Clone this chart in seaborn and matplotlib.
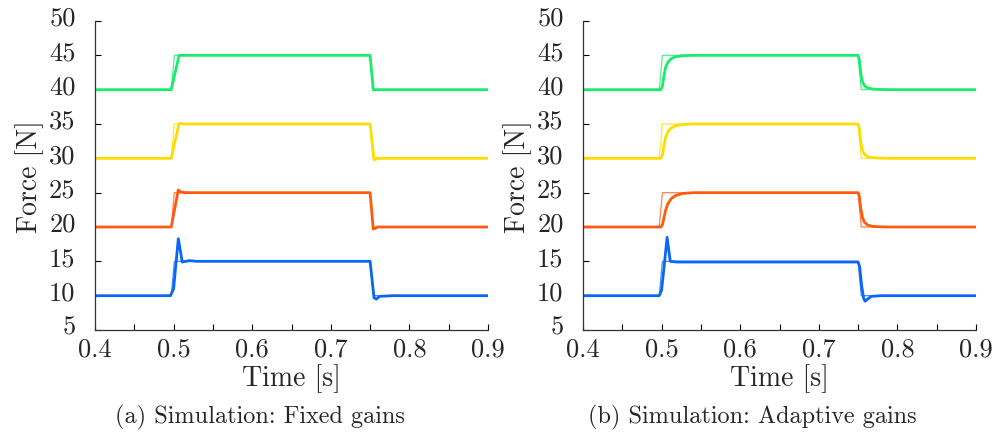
import numpy as np
import pandas as pd
import matplotlib
matplotlib.use("Agg")
import matplotlib.pyplot as plt
import matplotlib.transforms as mtransforms
import seaborn as sns

# reference (thin) traces, same for both panels
ref_time = [0.4, 0.497, 0.501, 0.75, 0.754, 0.9]
ref_green = [40, 40, 45, 45, 40, 40]
ref_yellow = [30, 30, 35, 35, 30, 30]
ref_orange = [20, 20, 25, 25, 20, 20]
ref_blue = [10, 10, 15, 15, 10, 10]

# (a) fixed gains, measured force
fix_green_t = [0.4, 0.497, 0.507, 0.75, 0.754, 0.9]
fix_green = [40, 40, 45, 45, 40, 40]
fix_yellow_t = [0.4, 0.497, 0.507, 0.515, 0.75, 0.755, 0.76, 0.9]
fix_yellow = [30, 30, 35.1, 35, 35, 29.8, 30, 30]
fix_orange_t = [0.4, 0.497, 0.506, 0.509, 0.515, 0.75, 0.754, 0.76, 0.9]
fix_orange = [20, 20, 25.4, 25.1, 25, 25, 19.7, 20, 20]
fix_blue_t = [0.4, 0.496, 0.5, 0.506, 0.511, 0.52, 0.53, 0.75, 0.755, 0.758, 0.762, 0.78, 0.9]
fix_blue = [10, 10, 11, 18.3, 14.9, 15.1, 15, 15, 9.7, 9.5, 9.9, 10, 10]

# (b) adaptive gains, measured force
ada_t = [0.4, 0.499, 0.501, 0.503, 0.505, 0.508, 0.512, 0.518, 0.527, 0.54,
         0.75, 0.7515, 0.7535, 0.7555, 0.758, 0.762, 0.768, 0.777, 0.79, 0.9]
ada_green = [40, 40, 40.5, 42.0, 43.2, 44.0, 44.5, 44.8, 44.95, 45,
             45, 44.4, 42.3, 41.2, 40.6, 40.25, 40.1, 40.03, 40, 40]
ada_yellow = [30, 30, 30.4, 31.8, 33.0, 33.9, 34.4, 34.75, 34.93, 35,
              35, 34.4, 32.3, 31.2, 30.6, 30.25, 30.1, 30.03, 30, 30]
ada_orange = [20, 20, 20.3, 21.3, 22.4, 23.4, 24.1, 24.6, 24.88, 25,
              25, 24.5, 22.6, 21.4, 20.7, 20.3, 20.1, 20.03, 20, 20]
ada_blue_t = [0.4, 0.497, 0.5, 0.503, 0.507, 0.511, 0.52, 0.75, 0.752, 0.7545,
              0.757, 0.759, 0.762, 0.767, 0.78, 0.9]
ada_blue = [10, 10, 10.8, 14.0, 18.5, 15.0, 14.9, 14.9, 14.2, 11.5,
            9.6, 9.2, 9.5, 9.9, 10, 10]

colors = {"green": "#18ec6c", "yellow": "#ffdc00", "orange": "#ff5a10", "blue": "#0a66f7"}

x_ticks = [0.4, 0.5, 0.6, 0.7, 0.8, 0.9]
y_ticks = [5, 10, 15, 20, 25, 30, 35, 40, 45, 50]
captions = ["(a) Simulation: Fixed gains", "(b) Simulation: Adaptive gains"]
caption_x = [260 / 996, 752 / 996]

sns.set_style("ticks")
plt.rcParams["font.family"] = ["cmr10", "DejaVu Serif"]
plt.rcParams["mathtext.fontset"] = "cm"
plt.rcParams["axes.formatter.use_mathtext"] = True

fig = plt.figure(figsize=(9.96, 4.35), dpi=100)
ax_a = fig.add_axes([95 / 996, 1 - 331 / 435, 393 / 996, 309 / 435])
ax_b = fig.add_axes([583 / 996, 1 - 331 / 435, 393 / 996, 309 / 435])

panels = [
    (ax_a, [(fix_green_t, fix_green, "green"), (fix_yellow_t, fix_yellow, "yellow"),
            (fix_orange_t, fix_orange, "orange"), (fix_blue_t, fix_blue, "blue")]),
    (ax_b, [(ada_t, ada_green, "green"), (ada_t, ada_yellow, "yellow"),
            (ada_t, ada_orange, "orange"), (ada_blue_t, ada_blue, "blue")]),
]
refs = {"green": ref_green, "yellow": ref_yellow, "orange": ref_orange, "blue": ref_blue}

for i, (ax, series) in enumerate(panels):
    for t, v, name in series:
        ref_df = pd.DataFrame({"t": ref_time, "f": refs[name]})
        sns.lineplot(data=ref_df, x="t", y="f", ax=ax, color=colors[name],
                     lw=0.9, alpha=0.75, estimator=None, sort=False)
        df = pd.DataFrame({"t": t, "f": v})
        sns.lineplot(data=df, x="t", y="f", ax=ax, color=colors[name],
                     lw=2.0, estimator=None, sort=False)

    ax.set_xlim(0.4, 0.9)
    ax.set_ylim(5, 50)
    ax.set_xticks(x_ticks)
    ax.set_xticklabels([f"{x:.1f}" for x in x_ticks])
    ax.set_xticks([0.45, 0.55, 0.65, 0.75, 0.85], minor=True)
    ax.set_yticks(y_ticks)
    ax.set_yticklabels([str(y) for y in y_ticks])
    ax.tick_params(axis="both", which="both", direction="in", length=4, width=0.8,
                   labelsize=19, color="black")
    ax.tick_params(axis="y", pad=14)
    ax.tick_params(axis="x", pad=5)
    sns.despine(ax=ax)
    for s in ["left", "bottom"]:
        ax.spines[s].set_linewidth(0.9)
        ax.spines[s].set_color("#333333")
    offset = mtransforms.ScaledTranslation(0, 4 / 72, fig.dpi_scale_trans)
    for lab in ax.get_yticklabels():
        lab.set_transform(lab.get_transform() + offset)

    ax.set_xlabel("Time [s]", fontsize=20, labelpad=2)
    ax.set_ylabel("Force [N]", fontsize=20, labelpad=4)
    fig.text(caption_x[i], 1 - 417 / 435, captions[i], fontsize=17.5,
             ha="center", va="center")

fig.savefig("out.png", dpi=100)
